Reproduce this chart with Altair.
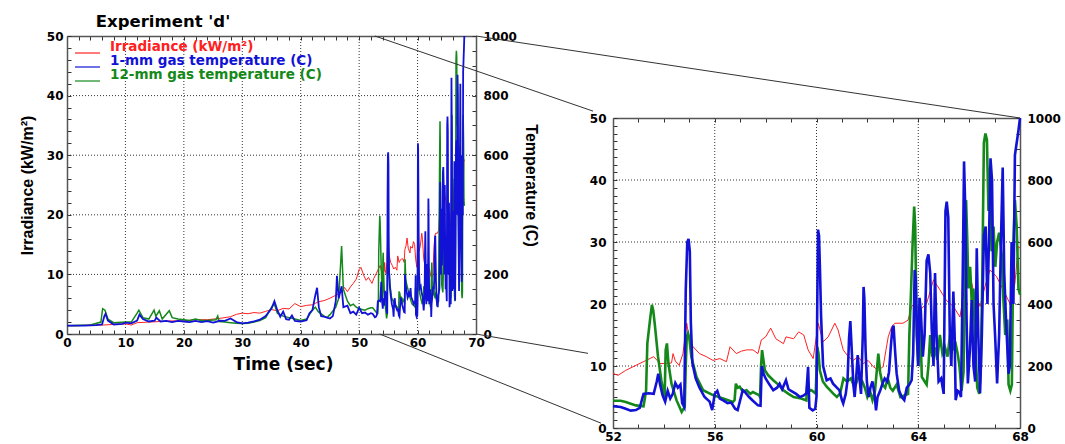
import altair as alt
import pandas as pd

# ---------------- data (time s, value) ----------------
IRRADIANCE = [  # kW/m2
    (0, 1.4), (2, 1.4), (4, 1.5), (6, 1.5), (8, 1.6), (10, 1.7), (11, 1.5), (12, 1.9), (14, 2.0),
    (16, 2.1), (18, 2.2), (20, 2.2), (22, 2.4), (24, 2.4), (26, 2.6), (28, 2.9), (29, 3.3), (30, 3.5),
    (31, 3.4), (32, 3.6), (33, 3.5), (34, 3.8), (35, 4.1), (36, 3.9), (37, 4.3), (38, 4.2), (39, 5.1),
    (40, 4.6), (41, 4.8), (42, 4.9), (43, 5.4), (44, 5.6), (45, 6.0), (46, 6.5), (47, 7.0), (47.5, 7.8),
    (48, 7.1), (48.5, 7.9), (49, 8.5), (49.5, 9.2), (50, 10.8), (50.3, 11.2), (50.8, 9.8), (51.2, 9.0),
    (51.6, 9.5),
    (52.0, 8.8), (52.2, 8.5), (52.5, 9.3), (52.9, 10.1), (53.3, 10.9), (53.6, 11.5), (53.85, 10.4),
    (54.1, 10.4), (54.3, 10.5), (54.36, 12.0), (54.45, 10.8), (54.6, 10.1), (54.75, 12.0), (54.9, 16.9),
    (55.0, 14.2), (55.15, 13.1), (55.4, 12.0), (55.67, 11.5), (55.93, 10.9), (56.2, 11.2), (56.46, 10.7),
    (56.6, 13.1), (56.85, 12.0), (57.05, 12.4), (57.25, 12.6), (57.5, 12.6), (57.7, 12.0), (57.83, 14.2),
    (58.0, 14.7), (58.2, 16.1), (58.4, 14.4), (58.7, 13.6), (58.8, 14.7), (59.1, 14.4), (59.3, 15.5),
    (59.5, 15.0), (59.67, 12.6), (59.87, 11.2), (60.07, 16.9), (60.26, 13.9), (60.46, 14.7), (60.72, 16.9),
    (60.85, 15.8), (61.05, 12.6), (61.25, 11.5), (61.44, 10.9), (61.64, 11.5), (61.84, 10.4), (62.03, 10.9),
    (62.23, 9.9), (62.43, 9.3), (62.62, 9.9), (62.82, 14.7), (62.95, 16.3), (63.08, 16.9), (63.4, 16.9),
    (63.6, 17.4), (63.74, 19.6), (63.87, 20.1), (64.07, 19.0), (64.33, 20.1), (64.6, 23.9), (64.85, 22.3),
    (65.1, 20.6), (65.38, 19.6), (65.64, 17.9), (65.77, 21.2), (65.9, 27.1), (66.16, 22.3), (66.43, 19.6),
    (66.62, 22.8), (66.82, 25.5), (67.08, 24.4), (67.34, 22.3), (67.6, 20.1), (67.8, 23.3), (67.93, 29.3),
    (68.0, 29.0),
]

GAS_T_1MM = [  # deg C
    (0, 28), (3, 28), (5, 30), (6, 32), (6.4, 60), (6.6, 68), (7, 45), (8, 32), (9.5, 34), (10, 38),
    (11, 36), (12, 45), (12.4, 65), (13, 50), (14, 42), (15, 45), (15.3, 55), (16, 42), (17, 44), (18, 40),
    (19, 44), (20, 42), (21, 40), (22, 44), (23, 40), (24, 43), (25, 38), (25.8, 42), (26, 45), (27, 44),
    (28, 52), (28.5, 46), (29, 40), (30, 36), (31, 38), (32, 42), (33, 48), (34, 60), (35, 85), (35.5, 110),
    (36, 80), (36.5, 58), (37, 75), (37.5, 50), (38, 48), (38.5, 62), (39, 44), (40, 42), (41, 46), (41.5, 70),
    (42, 80), (42.5, 130), (42.8, 155), (43.1, 90), (43.5, 60), (44, 58), (45, 52), (45.5, 60), (46, 110),
    (46.2, 195), (46.5, 120), (47, 160), (47.3, 90), (48, 95), (48.5, 70), (49, 75), (49.5, 65), (50, 88),
    (50.5, 70), (51, 72), (51.5, 65),
    (52.0, 70), (52.3, 68), (52.5, 62), (52.7, 56), (52.9, 58), (53.05, 65), (53.2, 110), (53.4, 112),
    (53.6, 110), (53.72, 150), (53.78, 175), (53.85, 140), (53.95, 105), (54.05, 85), (54.15, 120),
    (54.25, 95), (54.35, 110), (54.45, 145), (54.55, 130), (54.65, 140), (54.72, 80), (54.8, 68),
    (54.86, 445), (54.92, 600), (54.97, 610), (55.02, 570), (55.06, 340), (55.12, 210), (55.25, 160),
    (55.4, 130), (55.6, 100), (55.8, 85), (55.9, 58), (56.0, 110), (56.1, 120), (56.2, 95), (56.35, 88),
    (56.5, 80), (56.65, 82), (56.8, 62), (56.9, 58), (57.0, 90), (57.1, 122), (57.2, 115), (57.35, 100),
    (57.5, 88), (57.7, 73), (57.8, 72), (57.85, 200), (57.92, 175), (58.0, 160), (58.15, 140), (58.3, 122),
    (58.45, 130), (58.55, 143), (58.65, 125), (58.8, 154), (58.9, 125), (59.0, 120), (59.2, 110),
    (59.35, 100), (59.5, 105), (59.6, 112), (59.67, 197), (59.72, 65), (59.85, 57), (59.95, 62), (60.0, 100),
    (60.03, 400), (60.06, 640), (60.1, 620), (60.14, 500), (60.18, 360), (60.26, 200), (60.4, 154),
    (60.55, 160), (60.65, 143), (60.8, 130), (60.9, 122), (61.0, 90), (61.05, 79), (61.15, 110), (61.22, 154),
    (61.28, 290), (61.33, 345), (61.38, 260), (61.45, 140), (61.5, 100), (61.55, 150), (61.62, 235),
    (61.68, 170), (61.75, 110), (61.82, 300), (61.85, 455), (61.88, 420), (61.93, 250), (61.98, 150),
    (62.05, 100), (62.12, 130), (62.2, 150), (62.28, 110), (62.34, 57), (62.4, 100), (62.5, 120), (62.58, 140),
    (62.68, 160), (62.78, 150), (62.85, 180), (62.92, 260), (62.98, 320), (63.03, 330), (63.08, 260),
    (63.15, 176), (63.25, 120), (63.35, 100), (63.45, 90), (63.55, 130), (63.65, 140), (63.74, 154),
    (63.8, 240), (63.86, 510), (63.9, 480), (63.95, 300), (64.0, 200), (64.05, 420), (64.1, 380),
    (64.18, 230), (64.25, 300), (64.33, 540), (64.4, 560), (64.47, 500), (64.53, 320), (64.6, 200),
    (64.66, 500), (64.72, 300), (64.8, 150), (64.9, 160), (65.0, 110), (65.07, 700), (65.12, 730),
    (65.18, 680), (65.24, 300), (65.3, 200), (65.38, 440), (65.43, 300), (65.47, 90), (65.55, 120),
    (65.62, 115), (65.68, 100), (65.75, 500), (65.8, 860), (65.85, 700), (65.9, 350), (65.95, 144),
    (66.03, 250), (66.1, 413), (66.17, 200), (66.24, 150), (66.3, 580), (66.36, 300), (66.43, 112),
    (66.5, 300), (66.58, 620), (66.65, 650), (66.72, 400), (66.78, 600), (66.84, 870), (66.9, 800),
    (66.96, 400), (67.02, 300), (67.1, 144), (67.18, 300), (67.25, 600), (67.32, 840), (67.38, 500),
    (67.45, 350), (67.55, 175), (67.6, 200), (67.67, 600), (67.74, 400), (67.8, 880), (67.87, 920),
    (67.94, 960), (68.0, 1000),
]

GAS_T_12MM = [  # deg C
    (0, 28), (4, 30), (5.8, 40), (6.1, 85), (6.5, 80), (7, 50), (8, 38), (10, 40), (11, 40), (12, 70),
    (12.3, 80), (13, 55), (14, 50), (14.9, 80), (15.2, 60), (15.8, 78), (16.3, 50), (17.5, 78), (18, 55),
    (19, 50), (20, 48), (21, 45), (22, 50), (23, 45), (24, 45), (25.5, 48), (25.8, 60), (26, 42), (27, 40),
    (28, 38), (29, 36), (30, 35), (31, 36), (32, 40), (33, 45), (34, 55), (35, 90), (35.5, 100), (36, 70),
    (37, 60), (38, 55), (39, 50), (40, 45), (41, 50), (42, 80), (42.5, 90), (43, 75), (44, 60), (44.5, 55),
    (45, 65), (46, 90), (46.5, 120), (47, 295), (47.3, 150), (48, 110), (48.5, 95), (49, 100), (49.5, 90),
    (50, 85), (51, 80), (51.5, 85),
    (52.0, 88), (52.3, 88), (52.5, 84), (52.9, 73), (53.2, 70), (53.3, 120), (53.35, 273), (53.47, 359),
    (53.53, 397), (53.58, 380), (53.64, 337), (53.77, 230), (53.9, 154), (54.0, 110), (54.03, 100),
    (54.07, 251), (54.12, 273), (54.18, 208), (54.3, 143), (54.5, 89), (54.7, 52), (54.82, 68), (54.86, 200),
    (54.9, 294), (54.95, 305), (55.0, 290), (55.08, 230), (55.28, 165), (55.54, 122), (55.93, 106),
    (56.33, 95), (56.72, 84), (56.78, 90), (56.83, 143), (56.9, 130), (56.98, 133), (57.1, 118),
    (57.25, 122), (57.4, 110), (57.5, 116), (57.74, 106), (57.78, 100), (57.82, 200), (57.86, 251),
    (57.97, 186), (58.1, 170), (58.3, 154), (58.5, 140), (58.7, 122), (58.9, 110), (59.1, 100), (59.4, 95),
    (59.6, 89), (59.65, 154), (59.72, 120), (59.8, 122), (59.97, 111), (60.03, 262), (60.08, 240),
    (60.13, 186), (60.25, 150), (60.4, 133), (60.66, 111), (60.8, 100), (60.93, 112), (61.06, 160),
    (61.2, 150), (61.35, 160), (61.5, 130), (61.65, 165), (61.8, 150), (61.9, 130), (62.0, 100),
    (62.1, 120), (62.2, 90), (62.3, 120), (62.43, 240), (62.5, 180), (62.6, 140), (62.7, 130), (62.8, 160),
    (62.9, 130), (63.0, 120), (63.15, 140), (63.3, 100), (63.45, 105), (63.6, 110), (63.65, 300),
    (63.72, 450), (63.78, 600), (63.84, 714), (63.88, 650), (63.94, 300), (64.0, 200), (64.07, 360),
    (64.14, 165), (64.25, 150), (64.33, 140), (64.4, 200), (64.47, 300), (64.55, 230), (64.65, 260),
    (64.75, 220), (64.85, 300), (64.95, 240), (65.05, 260), (65.15, 230), (65.25, 300), (65.35, 250),
    (65.45, 280), (65.55, 240), (65.62, 200), (65.7, 120), (65.78, 180), (65.84, 500), (65.88, 735),
    (65.93, 600), (65.97, 450), (66.04, 520), (66.1, 410), (66.17, 450), (66.25, 250), (66.32, 130),
    (66.4, 110), (66.46, 200), (66.52, 500), (66.58, 920), (66.64, 950), (66.7, 930), (66.76, 700),
    (66.82, 840), (66.88, 570), (66.96, 650), (67.03, 520), (67.1, 600), (67.18, 630), (67.28, 560),
    (67.35, 410), (67.42, 300), (67.5, 350), (67.55, 140), (67.62, 120), (67.68, 140), (67.74, 600),
    (67.8, 735), (67.87, 650), (67.94, 450), (68.0, 430),
]

SERIES = ["Irradiance (kW/m²)", "1-mm gas temperature (C)", "12-mm gas temperature (C)"]
TITLE = "Experiment 'd'"
X_TITLE = "Time (sec)"
Y_TITLE = "Irradiance (kW/m²)"
Y2_TITLE = "Temperature (C)"

LEFT_X_DOMAIN = [0, 70]
RIGHT_X_DOMAIN = [52, 68]
IRR_DOMAIN = [0, 50]
TEMP_DOMAIN = [0, 1000]
LEFT_X_LABELS = [0, 10, 20, 30, 40, 50, 60, 70]
RIGHT_X_LABELS = [52, 56, 60, 64, 68]
IRR_LABELS = [0, 10, 20, 30, 40, 50]
TEMP_LABELS = [0, 200, 400, 600, 800, 1000]
LEFT_VGRID = [10, 20, 30, 40, 50, 60]
RIGHT_VGRID = [56, 60, 64]
HGRID_TEMP = [200, 400, 600, 800]

# ---------------- styles & layout ----------------
COLORS = ["#ff2020", "#1212d6", "#15881a"]
FRAME = "#555555"
TICK = "#333333"
GRID = "#333333"
TITLE_FONT = "Liberation Sans"
W, H = 1065, 444
LEFT = (67, 476, 334, 36)      # plot rectangle: x0, x1, y_bottom, y_top (pixels)
RIGHT = (613, 1020, 428, 118)


def frange(a, b, step):
    out, v = [], a
    while v <= b + 1e-9:
        out.append(round(v, 4))
        v += step
    return out


def scale(dom, rng):
    return alt.Scale(domain=list(dom), range=list(rng), nice=False, zero=False)


BASE_AX = dict(grid=False, labelFlush=False, labelOverlap=False, format="d",
               tickColor=TICK, tickWidth=1, tickSize=4,
               domainColor=FRAME, domainWidth=1.5,
               labelFont="DejaVu Sans", labelFontWeight="bold", labelFontSize=12,
               labelColor="black")


def ax(orient, offset, values, labels=False, domain=False, ticks=True, pad=4, **kw):
    opts = dict(BASE_AX)
    opts.update(orient=orient, offset=offset, values=list(values), labels=labels,
                domain=domain, ticks=ticks, labelPadding=pad, title=None)
    opts.update(kw)
    return alt.Axis(**opts)


def series_df(pairs, lo, hi):
    d = pd.DataFrame(pairs, columns=["t", "v"])
    return d[(d.t >= lo) & (d.t <= hi)]


def panel(P, xdom, xlabels, xminor, irr_minor, vgrid, widths, titles, ypad):
    x0, x1, yb, yt = P
    xs = scale(xdom, (x0, x1))
    ys_i = scale(IRR_DOMAIN, (yb, yt))
    ys_t = scale(TEMP_DOMAIN, (yb, yt))
    temp_minor = frange(0, 1000, 50)
    layers = []
    vg = pd.DataFrame({"t": vgrid, "lo": IRR_DOMAIN[0], "hi": IRR_DOMAIN[1]})
    layers.append(alt.Chart(vg).mark_rule(color=GRID, strokeDash=[1, 2], strokeWidth=1).encode(
        x=alt.X("t:Q", scale=xs, axis=ax("top", -yb, xminor)),
        y=alt.Y("lo:Q", scale=ys_i, axis=ax("right", x0 - W, irr_minor)),
        y2="hi:Q"))
    hg = pd.DataFrame({"v": HGRID_TEMP, "lo": xdom[0], "hi": xdom[1]})
    layers.append(alt.Chart(hg).mark_rule(color=GRID, strokeDash=[1, 2], strokeWidth=1).encode(
        y=alt.Y("v:Q", scale=ys_t, axis=ax("left", -x1, temp_minor)),
        x=alt.X("lo:Q", scale=xs, axis=ax("bottom", yt - H, xminor, domain=True)),
        x2="hi:Q"))

    xkw, ykw, y2kw = {}, {}, {}
    if titles:
        xkw = dict(title=X_TITLE, titleFont="DejaVu Sans", titleFontWeight="bold", titleFontSize=17,
                   titleColor="black", titleX=283, titleY=35, titleAlign="center",
                   titleBaseline="alphabetic")
        ykw = dict(title=Y_TITLE, titleFont=TITLE_FONT, titleFontWeight="bold",
                   titleFontSize=16, titleColor="black", titleAngle=270, titleX=27 - x0,
                   titleY=(yb + yt) / 2, titleAlign="center", titleBaseline="middle")
        y2kw = dict(title=Y2_TITLE, titleFont=TITLE_FONT, titleFontWeight="bold",
                    titleFontSize=16, titleColor="black", titleAngle=90, titleX=530 - x1,
                    titleY=(yb + yt) / 2, titleAlign="center", titleBaseline="middle")

    lo, hi = xdom
    layers.append(alt.Chart(series_df(IRRADIANCE, lo, hi)).mark_line(
        color=COLORS[0], strokeWidth=widths[0]).encode(
        x=alt.X("t:Q", scale=xs, axis=ax("bottom", yb - H, xlabels, labels=True, domain=True,
                                          ticks=False, pad=3, **xkw)),
        y=alt.Y("v:Q", scale=ys_i, axis=ax("left", -x0, IRR_LABELS, labels=True, domain=True,
                                            ticks=False, pad=ypad, **ykw))))
    layers.append(alt.Chart(series_df(GAS_T_12MM, lo, hi)).mark_line(
        color=COLORS[2], strokeWidth=widths[2]).encode(
        x=alt.X("t:Q", scale=xs, axis=None),
        y=alt.Y("v:Q", scale=ys_t, axis=ax("right", x1 - W, TEMP_LABELS, labels=True, domain=True,
                                            ticks=False, pad=7, **y2kw))))
    layers.append(alt.Chart(series_df(GAS_T_1MM, lo, hi)).mark_line(
        color=COLORS[1], strokeWidth=widths[1]).encode(
        x=alt.X("t:Q", scale=xs, axis=None),
        y=alt.Y("v:Q", scale=ys_t, axis=None)))
    return layers


layers = []
layers += panel(LEFT, LEFT_X_DOMAIN, LEFT_X_LABELS, frange(0, 70, 2), frange(0, 50, 2),
                LEFT_VGRID, (1.0, 1.8, 1.5), True, 4)
layers += panel(RIGHT, RIGHT_X_DOMAIN, RIGHT_X_LABELS, frange(52, 68, 1), frange(0, 50, 1.25),
                RIGHT_VGRID, (1.0, 2.6, 2.6), False, 7)


# ---------------- zoom connector lines (mapped through the panel scales) ----------------
def px(P, dom, v):
    return P[0] + (v - dom[0]) / (dom[1] - dom[0]) * (P[1] - P[0])


def py(P, v):
    return P[2] + (v - IRR_DOMAIN[0]) / (IRR_DOMAIN[1] - IRR_DOMAIN[0]) * (P[3] - P[2])


def connector(t_from, v_from, t_to, v_to, gap):
    xa, ya = px(LEFT, LEFT_X_DOMAIN, t_from), py(LEFT, v_from)
    xb, yb = px(RIGHT, RIGHT_X_DOMAIN, t_to), py(RIGHT, v_to)
    xe = px(RIGHT, RIGHT_X_DOMAIN, RIGHT_X_DOMAIN[0]) - gap if gap else xb
    f = (xe - xa) / (xb - xa)
    return dict(x=xa, y=ya, x2=xa + f * (xb - xa), y2=ya + f * (yb - ya))


conn = pd.DataFrame([
    connector(52.7, 50, 52, 50, 20),
    connector(53.5, 0, 52, 0, 12),
    connector(70, 50, 68, 50, 0),
    connector(70, 0, 68, 0, 25),
])
layers.append(alt.Chart(conn).mark_rule(color="#333333", strokeWidth=1).encode(
    x=alt.X("x:Q", scale=None, axis=None), y=alt.Y("y:Q", scale=None, axis=None),
    x2="x2:Q", y2="y2:Q"))

# ---------------- legend and title ----------------
leg = pd.DataFrame({"name": SERIES, "row": list(range(len(SERIES)))})
leg["ty"] = 47 + 14 * leg["row"]
leg["ly"] = leg["ty"] + 6
color = alt.Color("name:N", scale=alt.Scale(domain=SERIES, range=COLORS), legend=None)
layers.append(alt.Chart(leg).mark_rule(strokeWidth=1.2).encode(
    x=alt.value(75), x2=alt.value(100), y=alt.Y("ly:Q", scale=None, axis=None), color=color))
layers.append(alt.Chart(leg).mark_text(align="left", baseline="middle", font="DejaVu Sans",
                                       fontWeight="bold", fontSize=13.5).encode(
    x=alt.value(110), y=alt.Y("ty:Q", scale=None, axis=None), text="name:N", color=color))
layers.append(alt.Chart(pd.DataFrame({"s": [TITLE]})).mark_text(
    align="center", baseline="alphabetic", font="DejaVu Sans", fontWeight="bold", fontSize=16.5,
    color="black").encode(x=alt.value(163), y=alt.value(27), text="s:N"))

chart = alt.layer(*layers).resolve_scale(
    x="independent", y="independent", color="independent"
).resolve_axis(x="independent", y="independent").properties(
    width=W, height=H, padding=0, autosize=alt.AutoSizeParams(type="none"), background="white"
).configure_view(stroke=None)

chart.save("out.html", embed_options={"renderer": "svg", "actions": False})
